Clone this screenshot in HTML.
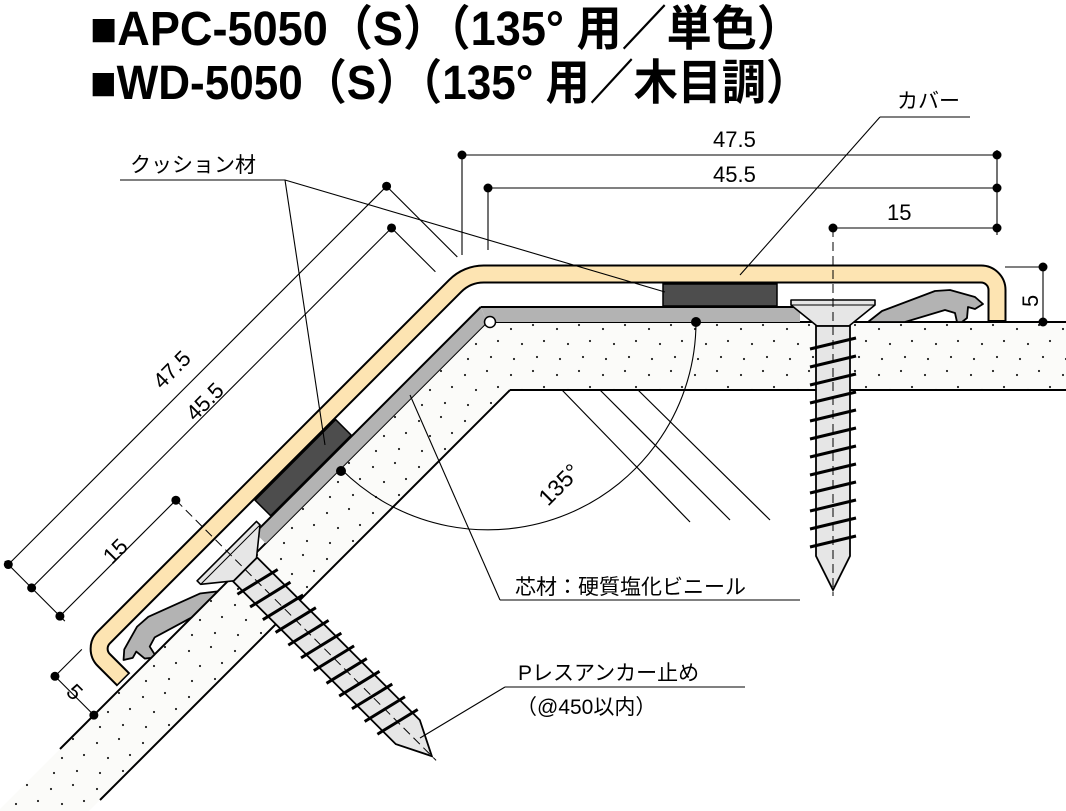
<!DOCTYPE html>
<html><head><meta charset="utf-8"><style>
html,body{margin:0;padding:0;background:#fff;overflow:hidden;}
svg{display:block;}
text{font-family:"Liberation Sans","Noto Sans CJK JP",sans-serif;fill:#000;}
</style></head><body>
<svg width="1066" height="811" viewBox="0 0 1066 811" xmlns="http://www.w3.org/2000/svg">
<defs>
<pattern id="dots" width="46" height="46" patternUnits="userSpaceOnUse">
<circle cx="5" cy="7" r="1.1" fill="#222"/><circle cx="27" cy="3" r="1.1" fill="#222"/>
<circle cx="16" cy="22" r="1.1" fill="#222"/><circle cx="38" cy="19" r="1.1" fill="#222"/>
<circle cx="8" cy="37" r="1.1" fill="#222"/><circle cx="31" cy="35" r="1.1" fill="#222"/>
</pattern>
</defs>
<!-- titles -->
<text x="90" y="45" font-size="48" font-weight="bold" textLength="712" lengthAdjust="spacingAndGlyphs">■APC-5050（S）（135° 用／単色）</text>
<text x="90" y="99" font-size="48" font-weight="bold" textLength="720" lengthAdjust="spacingAndGlyphs">■WD-5050（S）（135° 用／木目調）</text>

<!-- slab -->
<polygon points="1066,322 487,322 -2,811 89,811 510,390 1066,390" fill="#fbfbf9"/>
<polygon points="1066,322 487,322 -2,811 89,811 510,390 1066,390" fill="url(#dots)"/>
<g stroke="#000" stroke-width="2" fill="none">
<line x1="487" y1="322" x2="1066" y2="322"/>
<line x1="487" y1="322" x2="60" y2="749"/>
<line x1="510" y1="390" x2="1066" y2="390"/>
<line x1="510" y1="390" x2="100" y2="800"/>
</g>
<g stroke="#000" stroke-width="1.2">
<line x1="562" y1="390" x2="690" y2="522"/>
<line x1="600" y1="390" x2="730" y2="520"/>
<line x1="638" y1="390" x2="770" y2="520"/>
</g>

<!-- cover -->
<path d="M123.6,679.8 L103.8,660 A16,16 0 0 1 103.8,637.4 L455.4,285.7 A40,40 0 0 1 483.7,274 L981,274 A16,16 0 0 1 997,290 L997,321" fill="none" stroke="#000" stroke-width="19"/>
<path d="M122.5,678.7 L103.8,660 A16,16 0 0 1 103.8,637.4 L455.4,285.7 A40,40 0 0 1 483.7,274 L981,274 A16,16 0 0 1 997,290 L997,320" fill="none" stroke="#fde4b2" stroke-width="15"/>

<g id="half">
<g stroke="#000" stroke-width="1.1" fill="none">
<line x1="462" y1="155" x2="997" y2="155"/>
<line x1="488" y1="188" x2="997" y2="188"/>
<line x1="833" y1="228" x2="997" y2="228"/>
<line x1="462" y1="155" x2="462" y2="255"/>
<line x1="488" y1="188" x2="488" y2="250"/>
<line x1="997" y1="150" x2="997" y2="235"/>
<line x1="1043" y1="267" x2="1043" y2="322"/>
<line x1="1005" y1="267" x2="1045" y2="267"/>
</g>
<g fill="#000">
<circle cx="462" cy="155" r="4.5"/><circle cx="997" cy="155" r="4.5"/>
<circle cx="488" cy="188" r="4.5"/><circle cx="997" cy="188" r="4.5"/>
<circle cx="833" cy="228" r="4.5"/><circle cx="997" cy="228" r="4.5"/>
<circle cx="1043" cy="267" r="4.5"/><circle cx="1043" cy="322" r="4.5"/>
</g>
<polygon points="487,322 480.8,307 800,307 800,322" fill="#b3b3b3"/>
<polyline points="480.8,307 800,307" fill="none" stroke="#000" stroke-width="2"/>
<polygon points="868,322 882,311 935,291 950,290 975,297 983,304 975,309 968,307 967,318 962,322 957,322 955,313 945,310 905,322" fill="#b3b3b3" stroke="#000" stroke-width="1.8" stroke-linejoin="round"/>
<rect x="663" y="284" width="114" height="22" fill="#4d4d4d" stroke="#000" stroke-width="1.5"/>
<g transform="translate(833,322)">
<polygon points="-42,-22 42,-22 42,-17 16,4 -16,4 -42,-17" fill="#e6e6e6" stroke="#000" stroke-width="1.6" stroke-linejoin="round"/>
<line x1="-42" y1="-17" x2="42" y2="-17" stroke="#000" stroke-width="1"/>
<path d="M-17,4 L-17,234 L0,268 L17,234 L17,4 Z" fill="#e6e6e6" stroke="#000" stroke-width="1.8"/>
<g stroke="#000" stroke-width="3">
<line x1="-23" y1="27" x2="23" y2="16"/><line x1="-23" y1="45" x2="23" y2="34"/>
<line x1="-23" y1="63" x2="23" y2="52"/><line x1="-23" y1="81" x2="23" y2="70"/>
<line x1="-23" y1="99" x2="23" y2="88"/><line x1="-23" y1="117" x2="23" y2="106"/>
<line x1="-23" y1="135" x2="23" y2="124"/><line x1="-23" y1="153" x2="23" y2="142"/>
<line x1="-23" y1="171" x2="23" y2="160"/><line x1="-23" y1="189" x2="23" y2="178"/>
<line x1="-23" y1="207" x2="23" y2="196"/><line x1="-23" y1="225" x2="23" y2="214"/>
</g>
<line x1="0" y1="-94" x2="0" y2="274" stroke="#000" stroke-width="1" stroke-dasharray="9,5"/>
</g>
</g>
<use href="#half" transform="translate(487,322) matrix(-0.7071,0.7071,0.7071,0.7071,0,0) translate(-487,-322)"/>

<circle cx="490" cy="322" r="5.5" fill="#fff" stroke="#000" stroke-width="1.5"/>

<path d="M696,322 A208,208 0 0 1 341,469" fill="none" stroke="#000" stroke-width="1.1"/>
<circle cx="696" cy="322" r="5" fill="#000"/>
<circle cx="341" cy="471" r="5" fill="#000"/>
<text font-size="23" transform="translate(548,507) rotate(-45)">135°</text>

<g stroke="#000" stroke-width="1.1" fill="none">
<line x1="120" y1="180" x2="285" y2="180"/>
<line x1="285" y1="180" x2="665" y2="292"/>
<line x1="285" y1="180" x2="325" y2="445"/>
<line x1="880" y1="117" x2="970" y2="117"/>
<line x1="880" y1="117" x2="740" y2="275"/>
<line x1="500" y1="600" x2="800" y2="600"/>
<line x1="500" y1="600" x2="410" y2="395"/>
<line x1="505" y1="687" x2="745" y2="687"/>
<line x1="505" y1="687" x2="420" y2="738"/>
</g>
<text x="130" y="172" font-size="21">クッション材</text>
<text x="897" y="108" font-size="21">カバー</text>
<text x="515" y="594" font-size="21">芯材：硬質塩化ビニール</text>
<text x="518" y="680" font-size="21">Pレスアンカー止め</text>
<text x="516" y="714" font-size="21">（@450以内）</text>

<text x="713" y="147" font-size="22">47.5</text>
<text x="713" y="182" font-size="22">45.5</text>
<text x="887" y="220" font-size="22">15</text>
<text font-size="22" transform="translate(1038,307) rotate(-90)">5</text>
<text font-size="22" transform="translate(162,390) rotate(-45)">47.5</text>
<text font-size="22" transform="translate(195,422) rotate(-45)">45.5</text>
<text font-size="22" transform="translate(112,565) rotate(-45)">15</text>
<text font-size="22" transform="translate(65,693) rotate(45)">5</text>
</svg>
</body></html>
